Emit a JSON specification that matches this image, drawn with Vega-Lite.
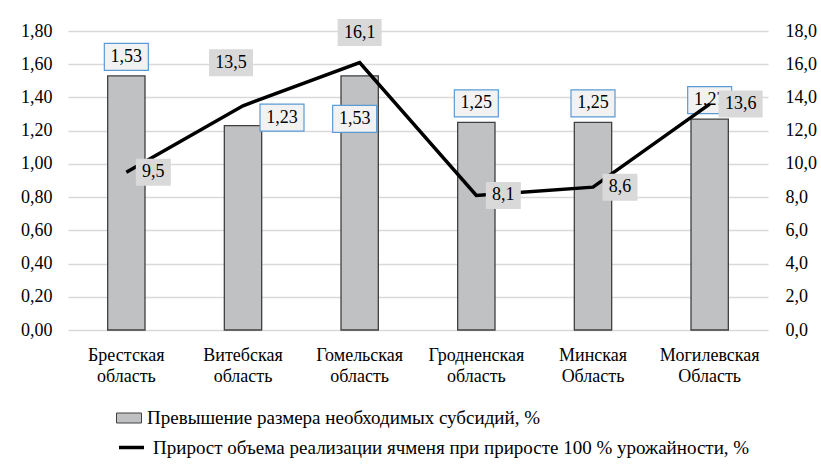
{
  "$schema": "https://vega.github.io/schema/vega-lite/v6.json",
  "autosize": {"type": "none"},
  "width": 700,
  "height": 299,
  "padding": {"left": 68, "top": 31, "right": 53, "bottom": 142},
  "background": "white",
  "config": {
    "view": {"stroke": null}
  },
  "data": {"values": [
    {"region": "Брестская область", "subsidy": 1.53, "growth": 9.5},
    {"region": "Витебская область", "subsidy": 1.23, "growth": 13.5},
    {"region": "Гомельская область", "subsidy": 1.53, "growth": 16.1},
    {"region": "Гродненская область", "subsidy": 1.25, "growth": 8.1},
    {"region": "Минская Область", "subsidy": 1.25, "growth": 8.6},
    {"region": "Могилевская Область", "subsidy": 1.27, "growth": 13.6}
  ]},
  "transform": [
    {"calculate": "replace(format(datum.subsidy, '.2f'), '.', ',')", "as": "subLab"},
    {"calculate": "replace(format(datum.growth, '.1f'), '.', ',')", "as": "growLab"}
  ],
  "encoding": {
    "x": {"field": "region", "type": "nominal", "sort": null, "title": null,
      "scale": {"paddingInner": 0, "paddingOuter": 0},
      "axis": {"labelAngle": 0, "labelExpr": "split(datum.label, ' ')", "labelLineHeight": 21, "labelPadding": 16, "grid": false, "domain": false, "ticks": false, "labelFont": "serif", "labelFontSize": 18, "labelColor": "#000000"}}
  },
  "layer": [
    {
      "encoding": {
        "y": {"field": "subsidy", "type": "quantitative", "title": null,
          "scale": {"domain": [0, 1.8], "nice": false, "zero": true},
          "axis": {"values": [0, 0.2, 0.4, 0.6, 0.8, 1.0, 1.2, 1.4, 1.6, 1.8], "format": ".2f", "labelExpr": "replace(datum.label, '.', ',')", "grid": true, "gridColor": "#D9D9D9", "gridWidth": 1.3, "labelPadding": 16, "orient": "left", "domain": false, "ticks": false, "labelFont": "serif", "labelFontSize": 18, "labelColor": "#000000"}}
      },
      "layer": [
        {
          "mark": {"type": "bar", "width": {"band": 0.32}, "stroke": "#404040", "strokeWidth": 1.3},
          "encoding": {
            "fill": {"datum": "Превышение размера необходимых субсидий, %", "scale": {"range": ["#BFC1C2"]},
              "legend": {"title": null, "orient": "none", "legendX": 48, "legendY": 374, "padding": 0, "offset": 0, "labelLimit": 1000, "labelFont": "serif", "labelFontSize": 19, "labelColor": "#000000", "symbolType": "M-1,-0.4H1V0.4H-1Z", "symbolSize": 625, "symbolStrokeColor": "#404040", "symbolStrokeWidth": 1, "labelOffset": 5}}
          }
        },
        {
          "transform": [{"filter": {"field": "region", "oneOf": ["Брестская область", "Гродненская область", "Минская Область", "Могилевская Область"]}}],
          "layer": [
            {"mark": {"type": "point", "shape": "M-1,-0.614H1V0.614H-1Z", "size": 1936, "filled": true, "fill": "#F2F2F2", "stroke": "#5B9BD5", "strokeWidth": 1.2, "opacity": 1, "yOffset": -19}},
            {"mark": {"type": "text", "font": "serif", "fontSize": 18, "color": "#000000", "baseline": "middle", "dy": -19},
              "encoding": {"text": {"field": "subLab", "type": "nominal"}}}
          ]
        },
        {
          "transform": [{"filter": {"field": "region", "equal": "Витебская область"}}],
          "layer": [
            {"mark": {"type": "point", "shape": "M-1,-0.614H1V0.614H-1Z", "size": 1936, "filled": true, "fill": "#F2F2F2", "stroke": "#5B9BD5", "strokeWidth": 1.2, "opacity": 1, "xOffset": 39, "yOffset": -8}},
            {"mark": {"type": "text", "font": "serif", "fontSize": 18, "color": "#000000", "baseline": "middle", "dx": 39, "dy": -8},
              "encoding": {"text": {"field": "subLab", "type": "nominal"}}}
          ]
        },
        {
          "transform": [{"filter": {"field": "region", "equal": "Гомельская область"}}],
          "layer": [
            {"mark": {"type": "point", "shape": "M-1,-0.614H1V0.614H-1Z", "size": 1936, "filled": true, "fill": "#F2F2F2", "stroke": "#5B9BD5", "strokeWidth": 1.2, "opacity": 1, "xOffset": -5, "yOffset": 43}},
            {"mark": {"type": "text", "font": "serif", "fontSize": 18, "color": "#000000", "baseline": "middle", "dx": -5, "dy": 43},
              "encoding": {"text": {"field": "subLab", "type": "nominal"}}}
          ]
        }
      ]
    },
    {
      "encoding": {
        "y": {"field": "growth", "type": "quantitative", "title": null,
          "scale": {"domain": [0, 18], "nice": false, "zero": true},
          "axis": {"values": [0, 2, 4, 6, 8, 10, 12, 14, 16, 18], "format": ".1f", "labelExpr": "replace(datum.label, '.', ',')", "grid": false, "labelPadding": 17, "orient": "right", "domain": false, "ticks": false, "labelFont": "serif", "labelFontSize": 18, "labelColor": "#000000"}}
      },
      "layer": [
        {
          "mark": {"type": "line", "strokeWidth": 3.5},
          "encoding": {
            "stroke": {"datum": "Прирост объема реализации ячменя при приросте 100 % урожайности, %", "scale": {"range": ["#000000"]},
              "legend": {"title": null, "orient": "none", "legendX": 49, "legendY": 402, "padding": 0, "offset": 0, "labelLimit": 1000, "labelFont": "serif", "labelFontSize": 19, "labelColor": "#000000", "symbolType": "stroke", "symbolSize": 625, "symbolStrokeWidth": 3.5, "symbolStrokeColor": "#000000", "labelOffset": 7}}
          }
        },
        {
          "transform": [{"filter": {"field": "region", "oneOf": ["Брестская область", "Гродненская область", "Минская Область"]}}],
          "layer": [
            {"mark": {"type": "point", "shape": "M-1,-0.771H1V0.771H-1Z", "size": 1225, "filled": true, "fill": "#D9D9D9", "strokeWidth": 0, "opacity": 1, "xOffset": 27}},
            {"mark": {"type": "text", "font": "serif", "fontSize": 18, "color": "#000000", "baseline": "middle", "dx": 27},
              "encoding": {"text": {"field": "growLab", "type": "nominal"}}}
          ]
        },
        {
          "transform": [{"filter": {"field": "region", "equal": "Могилевская Область"}}],
          "layer": [
            {"mark": {"type": "point", "shape": "M-1,-0.614H1V0.614H-1Z", "size": 1936, "filled": true, "fill": "#D9D9D9", "strokeWidth": 0, "opacity": 1, "xOffset": 31}},
            {"mark": {"type": "text", "font": "serif", "fontSize": 18, "color": "#000000", "baseline": "middle", "dx": 31},
              "encoding": {"text": {"field": "growLab", "type": "nominal"}}}
          ]
        },
        {
          "transform": [{"filter": {"field": "region", "equal": "Витебская область"}}],
          "layer": [
            {"mark": {"type": "point", "shape": "M-1,-0.614H1V0.614H-1Z", "size": 1936, "filled": true, "fill": "#D9D9D9", "strokeWidth": 0, "opacity": 1, "xOffset": -12, "yOffset": -43}},
            {"mark": {"type": "text", "font": "serif", "fontSize": 18, "color": "#000000", "baseline": "middle", "dx": -12, "dy": -43},
              "encoding": {"text": {"field": "growLab", "type": "nominal"}}}
          ]
        },
        {
          "transform": [{"filter": {"field": "region", "equal": "Гомельская область"}}],
          "layer": [
            {"mark": {"type": "point", "shape": "M-1,-0.614H1V0.614H-1Z", "size": 1936, "filled": true, "fill": "#D9D9D9", "strokeWidth": 0, "opacity": 1, "yOffset": -30}},
            {"mark": {"type": "text", "font": "serif", "fontSize": 18, "color": "#000000", "baseline": "middle", "dy": -30},
              "encoding": {"text": {"field": "growLab", "type": "nominal"}}}
          ]
        }
      ]
    }
  ],
  "resolve": {"scale": {"y": "independent"}}
}
